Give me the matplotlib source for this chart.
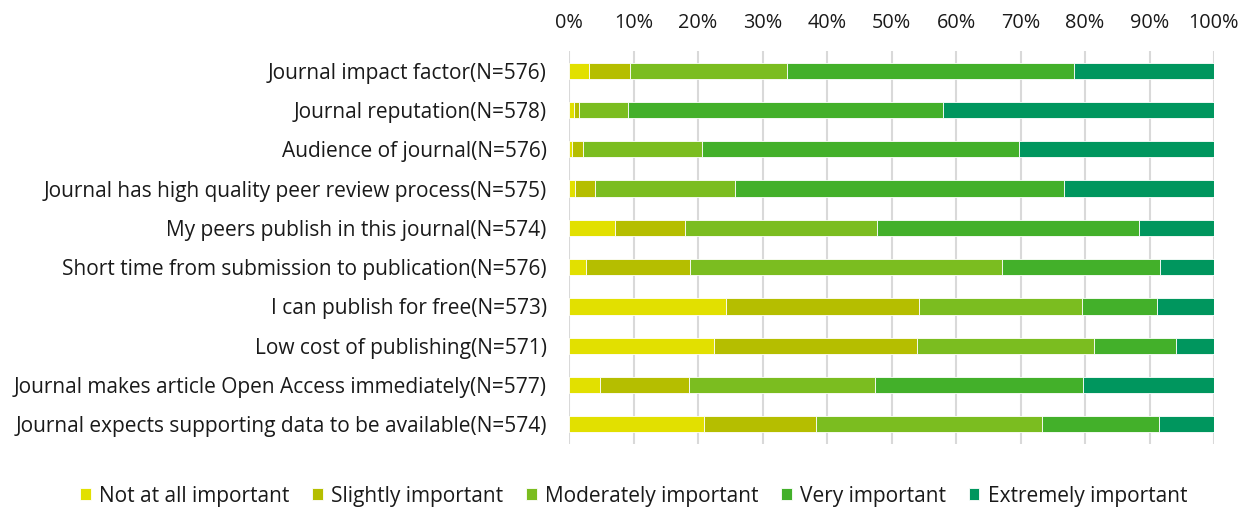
import matplotlib.pyplot as plt
import numpy as np

# Factores (de arriba a abajo)
factores = [
    'Journal impact factor(N=576)',
    'Journal reputation(N=578)',
    'Audience of journal(N=576)',
    'Journal has high quality peer review process(N=575)',
    'My peers publish in this journal(N=574)',
    'Short time from submission to publication(N=576)',
    'I can publish for free(N=573)',
    'Low cost of publishing(N=571)',
    'Journal makes article Open Access immediately(N=577)',
    'Journal expects supporting data to be available(N=574)',
]

niveles = ['Not at all important', 'Slightly important', 'Moderately important',
           'Very important', 'Extremely important']

# Porcentajes estimados por nivel
nada = [3.1, 0.7, 0.5, 1.0, 7.1, 2.6, 24.3, 22.5, 4.8, 21.0]
poco = [6.4, 0.8, 1.7, 3.0, 10.9, 16.1, 30.0, 31.5, 13.8, 17.3]
moderado = [24.3, 7.6, 18.4, 21.8, 29.7, 48.5, 25.3, 27.4, 28.9, 35.0]
muy = [44.5, 48.9, 49.2, 50.9, 40.7, 24.5, 11.6, 12.7, 32.2, 18.2]
extremo = [21.7, 42.0, 30.2, 23.3, 11.6, 8.3, 8.8, 5.9, 20.3, 8.5]

colores = ['#E2E000', '#B5BE00', '#7BBD20', '#43B02A', '#00965E']

plt.rcParams['font.family'] = ['Open Sans', 'DejaVu Sans']

fig = plt.figure(figsize=(12.5, 5.12), dpi=100)
ax = fig.add_axes([0.4552, 0.1328, 0.516, 0.7676])

series = [nada, poco, moderado, muy, extremo]
y = np.arange(len(factores))
izq = np.zeros(len(factores))
for vals, col, nom in zip(series, colores, niveles):
    vals = np.array(vals)
    ax.barh(y, vals, left=izq, height=0.41, color=col, edgecolor='white',
            linewidth=0.6, label=nom, zorder=3)
    izq += vals

ax.set_xlim(0, 100)
ax.set_ylim(len(factores) - 0.5, -0.5)
ax.set_yticks(y)
ax.set_yticklabels(factores, fontsize=15, color='#1a1a1a')
ax.set_xticks(np.arange(0, 101, 10))
ax.set_xticklabels([f'{v}%' for v in range(0, 101, 10)], fontsize=14.3, color='#1a1a1a')
ax.xaxis.tick_top()
ax.tick_params(axis='both', length=0)
ax.tick_params(axis='y', pad=16)
ax.tick_params(axis='x', pad=13)
for s in ax.spines.values():
    s.set_visible(False)
ax.grid(True, axis='x', color='#D9D9D9', linewidth=1.5, zorder=0)
ax.set_axisbelow(True)

fig.legend(loc='center', bbox_to_anchor=(0.507, 0.031), ncol=5, frameon=False,
           fontsize=15, handlelength=0.5, handleheight=0.5, handletextpad=0.4,
           columnspacing=1.1, labelcolor='#1a1a1a')

plt.savefig('out.png', dpi=100)
